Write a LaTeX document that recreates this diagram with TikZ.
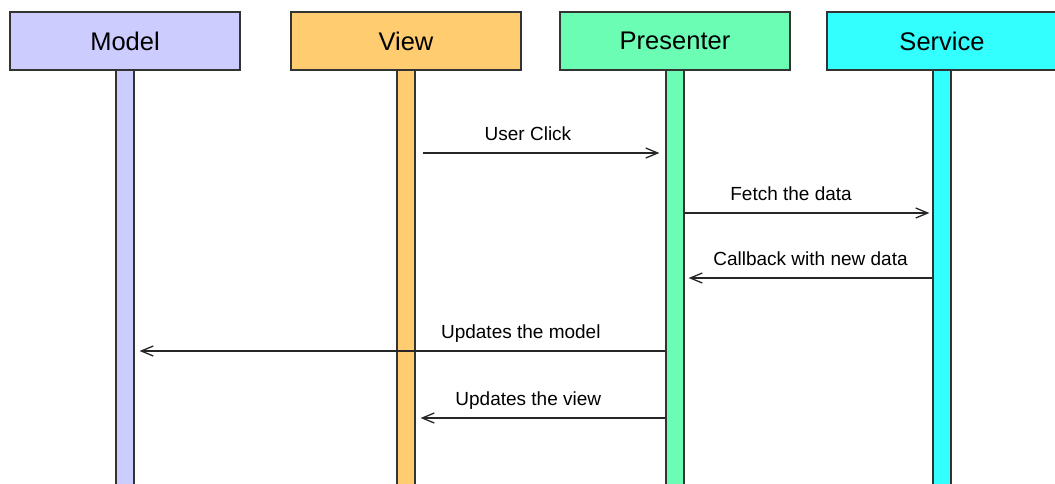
\documentclass[tikz,border=0pt]{standalone}
\usepackage{fontspec}
\setmainfont{Liberation Sans}
\usetikzlibrary{arrows.meta}
\definecolor{modelcol}{RGB}{204,204,255}
\definecolor{viewcol}{RGB}{255,204,111}
\definecolor{presentercol}{RGB}{108,253,180}
\definecolor{servicecol}{RGB}{51,255,255}
\begin{document}
\begin{tikzpicture}[x=1pt,y=-1pt,
        header/.style={draw=black!80,line width=1.2pt,minimum width=230pt,minimum height=58pt,inner sep=0pt,font=\fontsize{25.5}{30}\selectfont},
        lifeline/.style={draw=black!80,line width=1.2pt,minimum width=18pt,minimum height=430pt,inner sep=0pt,anchor=north},
        msg/.style={draw=black!85,line width=1.3pt,-{Straight Barb[length=12pt,width=10pt]}},
        msglabel/.style={anchor=base,yshift=13pt,font=\fontsize{19}{22}\selectfont}]
        \clip (0,0) rectangle (1055,483);
        \foreach \name/\x/\col/\txt in {model/125/modelcol/Model,view/406/viewcol/View,presenter/675/presentercol/Presenter,service/942/servicecol/Service}{
            \node[lifeline,fill=\col] (\name-bar) at (\x,70) {};
            \node[header,fill=\col] (\name) at (\x,41) {\txt};
        }
        
        % messages
        \draw[msg] ([xshift=7pt]view-bar.east |- 0,153) -- ([xshift=-6pt]presenter-bar.west |- 0,153) node[msglabel,pos=0.445] {User Click};
        \draw[msg] (presenter-bar.east |- 0,213) -- ([xshift=-3pt]service-bar.west |- 0,213) node[msglabel,pos=0.435] {Fetch the data};
        \draw[msg] (service-bar.west |- 0,278) -- ([xshift=4pt]presenter-bar.east |- 0,278) node[msglabel,pos=0.5] {Callback with new data};
        \draw[msg] (presenter-bar.west |- 0,351) -- ([xshift=5pt]model-bar.east |- 0,351) node[msglabel,pos=0.275] {Updates the model};
        \draw[msg] (presenter-bar.west |- 0,418) -- ([xshift=5pt]view-bar.east |- 0,418) node[msglabel,pos=0.56] {Updates the view};
        
    \end{tikzpicture}
\end{document}
